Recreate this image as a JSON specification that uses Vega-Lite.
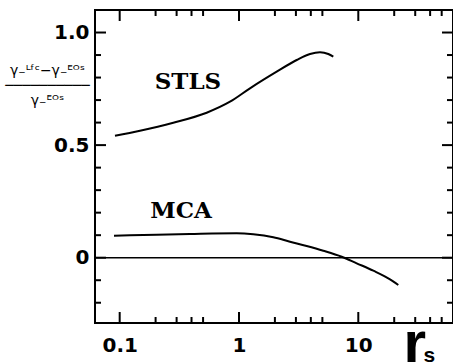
{
  "$schema": "https://vega.github.io/schema/vega-lite/v6.json",
  "width": 358,
  "height": 313,
  "autosize": "none",
  "padding": {"left": 95, "top": 10, "right": 0, "bottom": 41},
  "background": "white",
  "config": {
    "view": {"stroke": "black", "strokeWidth": 2},
    "axis": {"domain": false, "grid": false, "ticks": false, "labelColor": "black", "titleColor": "black", "labelFlush": false, "labelOverlap": false}
  },
  "datasets": {
    "xmajor": [{"v": 0.1}, {"v": 1}, {"v": 10}],
    "xminor": [{"v": 0.2}, {"v": 0.3}, {"v": 0.4}, {"v": 0.5}, {"v": 2}, {"v": 3}, {"v": 4}, {"v": 5}, {"v": 20}, {"v": 30}, {"v": 40}, {"v": 50}],
    "ymajor": [{"v": 0}, {"v": 0.5}, {"v": 1}],
    "yminor": [{"v": -0.2}, {"v": -0.1}, {"v": 0.1}, {"v": 0.2}, {"v": 0.3}, {"v": 0.4}, {"v": 0.6}, {"v": 0.7}, {"v": 0.8}, {"v": 0.9}]
  },
  "resolve": {"axis": {"x": "independent", "y": "independent"}},
  "layer": [
    {
      "data": {"values": [
        {"model": "STLS", "rs": 0.0913, "ratio": 0.5417},
        {"model": "STLS", "rs": 0.148, "ratio": 0.564},
        {"model": "STLS", "rs": 0.2813, "ratio": 0.5995},
        {"model": "STLS", "rs": 0.536, "ratio": 0.6439},
        {"model": "STLS", "rs": 0.8406, "ratio": 0.6927},
        {"model": "STLS", "rs": 1.236, "ratio": 0.7522},
        {"model": "STLS", "rs": 2.07, "ratio": 0.826},
        {"model": "STLS", "rs": 3.046, "ratio": 0.8779},
        {"model": "STLS", "rs": 3.937, "ratio": 0.9045},
        {"model": "STLS", "rs": 4.775, "ratio": 0.912},
        {"model": "STLS", "rs": 5.604, "ratio": 0.9045},
        {"model": "STLS", "rs": 6.173, "ratio": 0.8925},
        {"model": "MCA", "rs": 0.0896, "ratio": 0.0977},
        {"model": "MCA", "rs": 0.2042, "ratio": 0.1021},
        {"model": "MCA", "rs": 0.3884, "ratio": 0.1052},
        {"model": "MCA", "rs": 0.9565, "ratio": 0.1083},
        {"model": "MCA", "rs": 1.318, "ratio": 0.1039},
        {"model": "MCA", "rs": 1.939, "ratio": 0.0906},
        {"model": "MCA", "rs": 2.676, "ratio": 0.071},
        {"model": "MCA", "rs": 3.693, "ratio": 0.052},
        {"model": "MCA", "rs": 5.089, "ratio": 0.0311},
        {"model": "MCA", "rs": 7.26, "ratio": 0.0044},
        {"model": "MCA", "rs": 9.696, "ratio": -0.0249},
        {"model": "MCA", "rs": 13.36, "ratio": -0.0577},
        {"model": "MCA", "rs": 18.44, "ratio": -0.096},
        {"model": "MCA", "rs": 21.64, "ratio": -0.1212}
      ]},
      "mark": {"type": "line", "color": "black", "strokeWidth": 2, "interpolate": "monotone"},
      "encoding": {
        "detail": {"field": "model"},
        "x": {"field": "rs", "type": "quantitative",
          "scale": {"type": "log", "domain": [0.0621, 62.2], "nice": false},
          "axis": {"orient": "bottom", "values": [0.1, 1, 10], "format": "~g",
            "labelFont": "DejaVu Sans", "labelFontWeight": "bold", "labelFontSize": 20, "labelPadding": 12,
            "title": "r", "titleFont": "Liberation Sans", "titleFontWeight": "bold", "titleFontSize": 58,
            "titleX": 308, "titleY": 38, "titleAlign": "left", "titleBaseline": "alphabetic"}},
        "y": {"field": "ratio", "type": "quantitative",
          "scale": {"domain": [-0.29, 1.1], "nice": false, "zero": false},
          "axis": {"orient": "left", "values": [0, 0.5, 1],
            "labelExpr": "datum.value == 0 ? '0' : format(datum.value, '.1f')",
            "labelFont": "DejaVu Sans", "labelFontWeight": "bold", "labelFontSize": 20, "labelPadding": 6,
            "title": ["γ₋ᴸᶠᶜ−γ₋ᴱᴼˢ", "──────────", "γ₋ᴱᴼˢ"],
            "titleFont": "DejaVu Sans", "titleFontWeight": "normal", "titleFontSize": 14, "titleLineHeight": 15,
            "titleAngle": 0, "titleX": -48, "titleY": 53, "titleAlign": "center", "titleBaseline": "top"}}
      }
    },
    {
      "data": {"values": [{"label": "STLS", "rs": 0.3736, "ratio": 0.78}]},
      "mark": {"type": "text", "font": "DejaVu Serif", "fontWeight": "bold", "fontSize": 23, "color": "black", "baseline": "middle", "align": "center"},
      "encoding": {
        "text": {"field": "label"},
        "x": {"field": "rs", "type": "quantitative",
          "scale": {"type": "log", "domain": [0.0621, 62.2], "nice": false},
          "axis": {"orient": "bottom", "values": [], "labels": false,
            "title": "s", "titleFont": "Liberation Sans", "titleFontWeight": "bold", "titleFontSize": 21,
            "titleX": 328, "titleY": 38, "titleAlign": "left", "titleBaseline": "alphabetic"}},
        "y": {"field": "ratio", "type": "quantitative",
          "scale": {"domain": [-0.29, 1.1], "nice": false, "zero": false}, "axis": null}
      }
    },
    {
      "data": {"values": [{"label": "MCA", "rs": 0.3266, "ratio": 0.207}]},
      "mark": {"type": "text", "font": "DejaVu Serif", "fontWeight": "bold", "fontSize": 23, "color": "black", "baseline": "middle", "align": "center"},
      "encoding": {
        "text": {"field": "label"},
        "x": {"field": "rs", "type": "quantitative", "scale": {"type": "log", "domain": [0.0621, 62.2], "nice": false}, "axis": null},
        "y": {"field": "ratio", "type": "quantitative", "scale": {"domain": [-0.29, 1.1], "nice": false, "zero": false}, "axis": null}
      }
    },
    {
      "data": {"values": [{"ratio": 0}]},
      "mark": {"type": "rule", "color": "black", "strokeWidth": 1.5},
      "encoding": {
        "y": {"field": "ratio", "type": "quantitative", "scale": {"domain": [-0.29, 1.1], "nice": false, "zero": false}, "axis": null}
      }
    },
    {
      "data": {"name": "xmajor"},
      "mark": {"type": "rule", "color": "black", "strokeWidth": 2},
      "encoding": {
        "x": {"field": "v", "type": "quantitative", "scale": {"type": "log", "domain": [0.0621, 62.2], "nice": false}, "axis": null},
        "y": {"datum": -0.29, "type": "quantitative", "scale": {"domain": [-0.29, 1.1], "nice": false, "zero": false}, "axis": null},
        "y2": {"datum": -0.2412}
      }
    },
    {
      "data": {"name": "xmajor"},
      "mark": {"type": "rule", "color": "black", "strokeWidth": 2},
      "encoding": {
        "x": {"field": "v", "type": "quantitative", "scale": {"type": "log", "domain": [0.0621, 62.2], "nice": false}, "axis": null},
        "y": {"datum": 1.1, "type": "quantitative", "scale": {"domain": [-0.29, 1.1], "nice": false, "zero": false}, "axis": null},
        "y2": {"datum": 1.0512}
      }
    },
    {
      "data": {"name": "xminor"},
      "mark": {"type": "rule", "color": "black", "strokeWidth": 2},
      "encoding": {
        "x": {"field": "v", "type": "quantitative", "scale": {"type": "log", "domain": [0.0621, 62.2], "nice": false}, "axis": null},
        "y": {"datum": -0.29, "type": "quantitative", "scale": {"domain": [-0.29, 1.1], "nice": false, "zero": false}, "axis": null},
        "y2": {"datum": -0.2634}
      }
    },
    {
      "data": {"name": "xminor"},
      "mark": {"type": "rule", "color": "black", "strokeWidth": 2},
      "encoding": {
        "x": {"field": "v", "type": "quantitative", "scale": {"type": "log", "domain": [0.0621, 62.2], "nice": false}, "axis": null},
        "y": {"datum": 1.1, "type": "quantitative", "scale": {"domain": [-0.29, 1.1], "nice": false, "zero": false}, "axis": null},
        "y2": {"datum": 1.0734}
      }
    },
    {
      "data": {"name": "ymajor"},
      "mark": {"type": "rule", "color": "black", "strokeWidth": 2},
      "encoding": {
        "y": {"field": "v", "type": "quantitative", "scale": {"domain": [-0.29, 1.1], "nice": false, "zero": false}, "axis": null},
        "x": {"datum": 0.0621, "type": "quantitative", "scale": {"type": "log", "domain": [0.0621, 62.2], "nice": false}, "axis": null},
        "x2": {"datum": 0.07678}
      }
    },
    {
      "data": {"name": "ymajor"},
      "mark": {"type": "rule", "color": "black", "strokeWidth": 2},
      "encoding": {
        "y": {"field": "v", "type": "quantitative", "scale": {"domain": [-0.29, 1.1], "nice": false, "zero": false}, "axis": null},
        "x": {"datum": 62.2, "type": "quantitative", "scale": {"type": "log", "domain": [0.0621, 62.2], "nice": false}, "axis": null},
        "x2": {"datum": 50.31}
      }
    },
    {
      "data": {"name": "yminor"},
      "mark": {"type": "rule", "color": "black", "strokeWidth": 2},
      "encoding": {
        "y": {"field": "v", "type": "quantitative", "scale": {"domain": [-0.29, 1.1], "nice": false, "zero": false}, "axis": null},
        "x": {"datum": 0.0621, "type": "quantitative", "scale": {"type": "log", "domain": [0.0621, 62.2], "nice": false}, "axis": null},
        "x2": {"datum": 0.06973}
      }
    },
    {
      "data": {"name": "yminor"},
      "mark": {"type": "rule", "color": "black", "strokeWidth": 2},
      "encoding": {
        "y": {"field": "v", "type": "quantitative", "scale": {"domain": [-0.29, 1.1], "nice": false, "zero": false}, "axis": null},
        "x": {"datum": 62.2, "type": "quantitative", "scale": {"type": "log", "domain": [0.0621, 62.2], "nice": false}, "axis": null},
        "x2": {"datum": 55.4}
      }
    }
  ]
}
